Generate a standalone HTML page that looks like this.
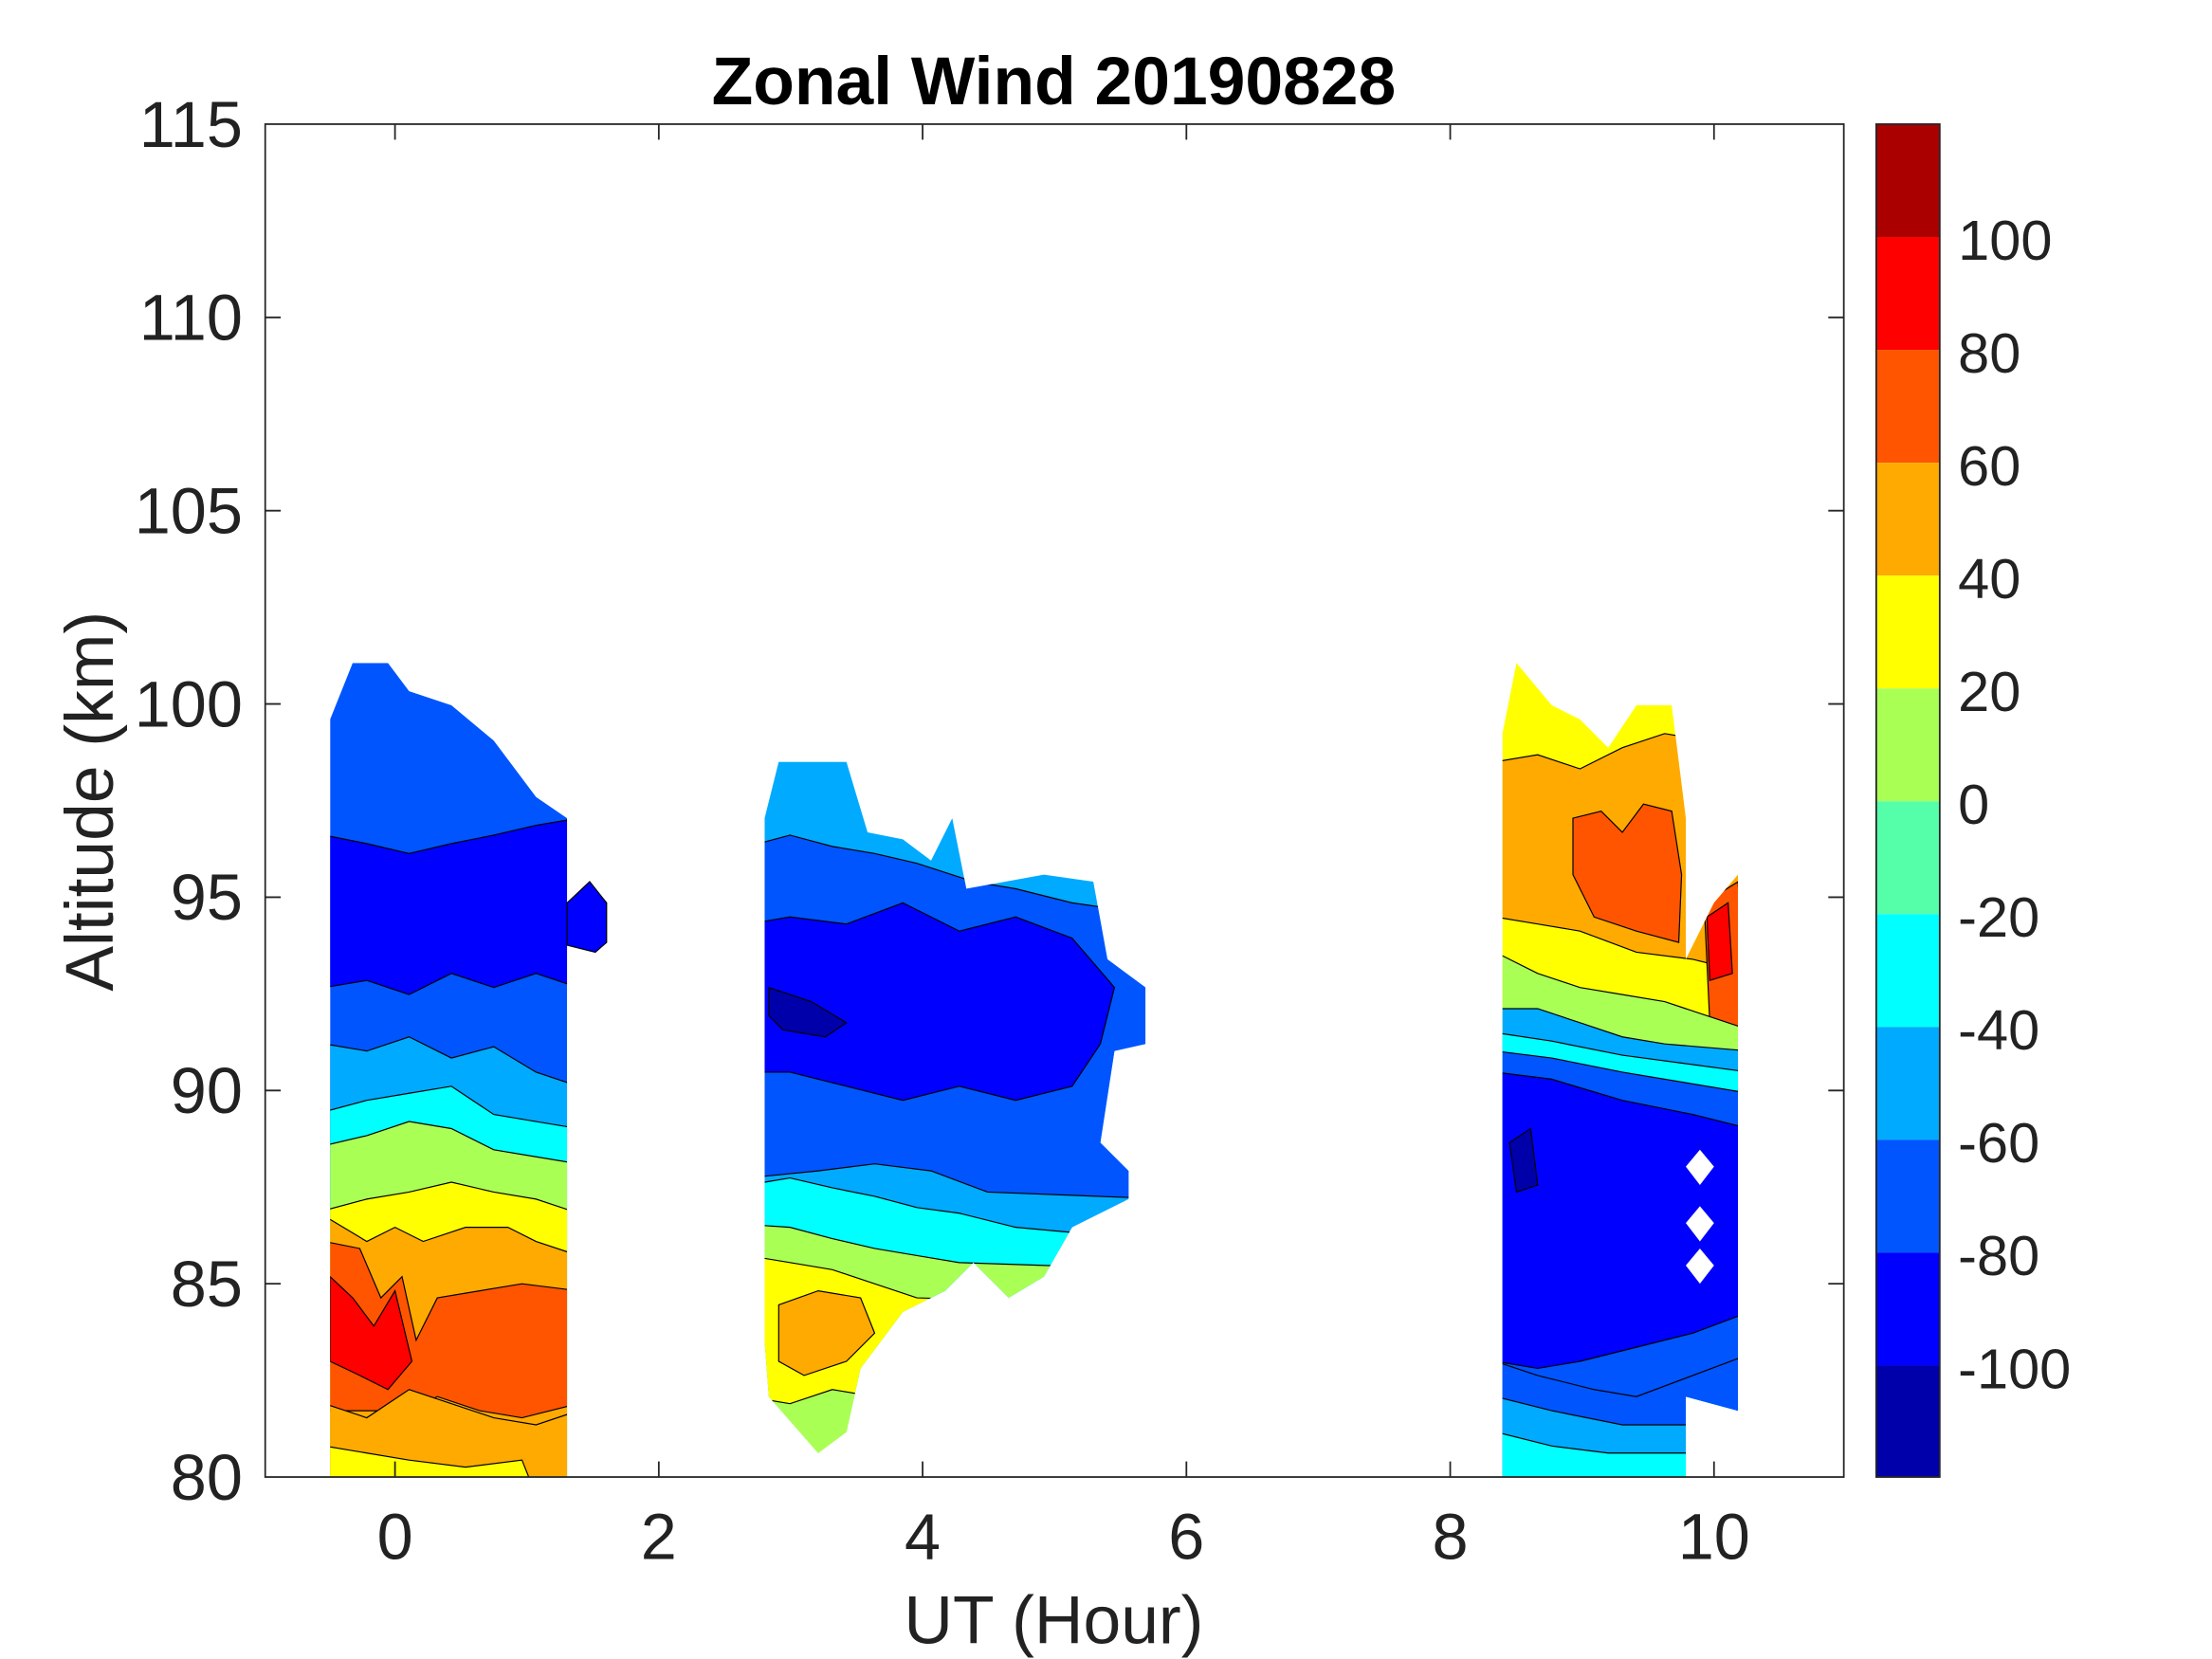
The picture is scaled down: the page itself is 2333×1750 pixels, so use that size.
<!DOCTYPE html>
<html><head><meta charset="utf-8"><style>
html,body{margin:0;padding:0;background:#fff}
svg{display:block}
text{font-family:"Liberation Sans",sans-serif;fill:#222}
</style></head><body>
<svg width="2333" height="1750" viewBox="0 0 1568 1176" preserveAspectRatio="none" xmlns="http://www.w3.org/2000/svg">
<defs>
<clipPath id="c1"><polygon points="234,510 250,470 275,470 290,490 320,500 350,525 380,565 402,580 402,1047 234,1047"/></clipPath>
<clipPath id="c2"><polygon points="542,580 552,540 600,540 615,590 640,595 660,610 675,580 685,630 740,620 775,625 785,680 812,700 812,740 790,745 780,810 800,830 800,850 760,870 740,905 715,920 690,895 670,915 640,930 610,970 600,1015 580,1030 545,990 542,950"/></clipPath>
<clipPath id="c3"><polygon points="1065,520 1075,470 1100,500 1120,510 1140,530 1160,500 1185,500 1195,580 1195,680 1215,640 1232,620 1232,1000 1195,990 1195,1047 1065,1047"/></clipPath>
</defs>
<g stroke="#000" stroke-width="0.8">
<g clip-path="url(#c1)">
<rect x="230" y="460" width="180" height="600" fill="#0055ff"/>
<polygon fill="#0000ff" points="230,592 260,598 290,605 320,598 350,592 380,585 410,580 410,700 380,690 350,700 320,690 290,705 260,695 230,700"/>
<polygon fill="#00aaff" points="230,740 260,745 290,735 320,750 350,742 380,760 410,770 410,1060 230,1060"/>
<polygon fill="#00ffff" points="230,788 260,780 290,775 320,770 350,790 380,795 410,800 410,1060 230,1060"/>
<polygon fill="#aaff55" points="230,812 260,805 290,795 320,800 350,815 380,820 410,825 410,1060 230,1060"/>
<polygon fill="#ffff00" points="230,858 260,850 290,845 320,838 350,845 380,850 410,860 410,1060 230,1060"/>
<polygon fill="#ffaa00" points="230,862 260,880 280,870 300,880 330,870 360,870 380,880 410,890 410,1060 230,1060"/>
<polygon fill="#ff5500" points="230,880 255,885 270,920 285,905 295,950 310,920 340,915 370,910 410,915 410,995 370,1005 340,1000 310,990 290,1000 260,1000 230,1000"/>
<polygon fill="#ff0000" points="234,905 250,920 265,940 280,915 292,965 275,985 255,975 234,965"/>
<polygon fill="#ffaa00" points="230,995 260,1005 290,985 320,995 350,1005 380,1010 410,1000 410,1060 230,1060"/>
<polygon fill="#ffff00" points="230,1025 260,1030 290,1035 330,1040 370,1035 380,1060 230,1060"/>
</g>
<polygon fill="#0000ff" points="402,640 418,625 430,640 430,668 422,675 402,670"/>
<g clip-path="url(#c2)">
<rect x="530" y="530" width="300" height="520" fill="#00aaff"/>
<polygon fill="#0055ff" points="530,600 560,592 590,600 620,605 650,612 690,625 720,630 760,640 830,650 830,850 700,845 660,830 620,825 580,830 530,835"/>
<polygon fill="#0000ff" points="530,655 560,650 600,655 640,640 680,660 720,650 760,665 790,700 780,740 760,770 720,780 680,770 640,780 600,770 560,760 530,760"/>
<polygon fill="#0000aa" points="545,700 575,710 600,725 585,735 555,730 545,720"/>
<polygon fill="#00ffff" points="530,840 560,835 590,842 620,848 650,856 680,860 720,870 830,880 830,1050 530,1050"/>
<polygon fill="#aaff55" points="530,868 560,870 590,878 620,885 650,890 680,895 830,900 830,1050 530,1050"/>
<polygon fill="#ffff00" points="530,890 560,895 590,900 620,910 650,920 830,925 830,1050 530,1050"/>
<polygon fill="#ffaa00" points="552,925 580,915 610,920 620,945 600,965 570,975 552,965"/>
<polygon fill="#aaff55" points="530,990 560,995 590,985 620,990 620,1050 530,1050"/>
</g>
<g clip-path="url(#c3)">
<rect x="1060" y="460" width="180" height="600" fill="#ffff00"/>
<polygon fill="#ffaa00" points="1060,540 1090,535 1120,545 1150,530 1180,520 1240,530 1240,690 1200,680 1160,675 1120,660 1090,655 1060,650"/>
<polygon fill="#ff5500" points="1115,580 1135,575 1150,590 1165,570 1185,575 1192,620 1190,668 1160,660 1130,650 1115,620"/>
<polygon fill="#ff5500" points="1208,640 1232,625 1240,730 1212,725"/>
<polygon fill="#ff0000" points="1210,650 1225,640 1228,690 1212,695"/>
<polygon fill="#aaff55" points="1060,675 1090,690 1120,700 1150,705 1180,710 1240,730 1240,1060 1060,1060"/>
<polygon fill="#00aaff" points="1060,715 1090,715 1120,725 1150,735 1180,740 1240,745 1240,1060 1060,1060"/>
<polygon fill="#00ffff" points="1060,732 1100,738 1150,748 1240,760 1240,1060 1060,1060"/>
<polygon fill="#0055ff" points="1060,745 1100,750 1150,760 1240,775 1240,1060 1060,1060"/>
<polygon fill="#0000ff" points="1060,760 1100,765 1150,780 1200,790 1240,800 1240,930 1200,945 1160,955 1120,965 1090,970 1060,965"/>
<polygon fill="#0000aa" points="1070,810 1085,800 1090,840 1075,845"/>
<polygon fill="#0055ff" points="1060,965 1090,975 1130,985 1160,990 1240,960 1240,1060 1060,1060"/>
<polygon fill="#00aaff" points="1060,990 1100,1000 1150,1010 1240,1010 1240,1060 1060,1060"/>
<polygon fill="#00ffff" points="1060,1015 1100,1025 1140,1030 1240,1030 1240,1060 1060,1060"/>
</g>
</g>
<g fill="#fff">
<polygon points="1205,815 1215,827 1205,840 1195,827"/>
<polygon points="1205,855 1215,867 1205,880 1195,867"/>
<polygon points="1205,885 1215,897 1205,910 1195,897"/>
</g>
<rect x="188" y="88" width="1119" height="959" fill="none" stroke="#262626" stroke-width="1.2"/>
<g stroke="#262626" stroke-width="1.2">
<path d="M280,1047v-11M467,1047v-11M654,1047v-11M841,1047v-11M1028,1047v-11M1215,1047v-11M280,88v11M467,88v11M654,88v11M841,88v11M1028,88v11M1215,88v11"/>
<path d="M188,910h11M188,773h11M188,636h11M188,499h11M188,362h11M188,225h11M1307,910h-11M1307,773h-11M1307,636h-11M1307,499h-11M1307,362h-11M1307,225h-11"/>
</g>
<g font-size="46" text-anchor="middle">
<text x="280" y="1105">0</text><text x="467" y="1105">2</text><text x="654" y="1105">4</text>
<text x="841" y="1105">6</text><text x="1028" y="1105">8</text><text x="1215" y="1105">10</text>
</g>
<g font-size="46" text-anchor="end">
<text x="172" y="1063">80</text><text x="172" y="926">85</text><text x="172" y="789">90</text>
<text x="172" y="652">95</text><text x="172" y="515">100</text><text x="172" y="378">105</text>
<text x="172" y="241">110</text><text x="172" y="104">115</text>
</g>
<text x="747" y="1165" font-size="48" text-anchor="middle">UT (Hour)</text>
<text transform="translate(80,568) rotate(-90)" font-size="48" text-anchor="middle">Altitude (km)</text>
<text x="747" y="74" font-size="48" font-weight="bold" text-anchor="middle" style="fill:#000">Zonal Wind 20190828</text>
<g>
<rect x="1330" y="88" width="45" height="80" fill="#aa0000"/>
<rect x="1330" y="168" width="45" height="80" fill="#ff0000"/>
<rect x="1330" y="248" width="45" height="80" fill="#ff5500"/>
<rect x="1330" y="328" width="45" height="80" fill="#ffaa00"/>
<rect x="1330" y="408" width="45" height="80" fill="#ffff00"/>
<rect x="1330" y="488" width="45" height="80" fill="#aaff55"/>
<rect x="1330" y="568" width="45" height="80" fill="#55ffaa"/>
<rect x="1330" y="648" width="45" height="80" fill="#00ffff"/>
<rect x="1330" y="728" width="45" height="80" fill="#00aaff"/>
<rect x="1330" y="808" width="45" height="80" fill="#0055ff"/>
<rect x="1330" y="888" width="45" height="80" fill="#0000ff"/>
<rect x="1330" y="968" width="45" height="79" fill="#0000aa"/>
<rect x="1330" y="88" width="45" height="959" fill="none" stroke="#262626" stroke-width="1.2"/>
</g>
<g font-size="40">
<text x="1388" y="184">100</text><text x="1388" y="264">80</text><text x="1388" y="344">60</text>
<text x="1388" y="424">40</text><text x="1388" y="504">20</text><text x="1388" y="584">0</text>
<text x="1388" y="664">-20</text><text x="1388" y="744">-40</text><text x="1388" y="824">-60</text>
<text x="1388" y="904">-80</text><text x="1388" y="984">-100</text>
</g>
</svg>
</body></html>
